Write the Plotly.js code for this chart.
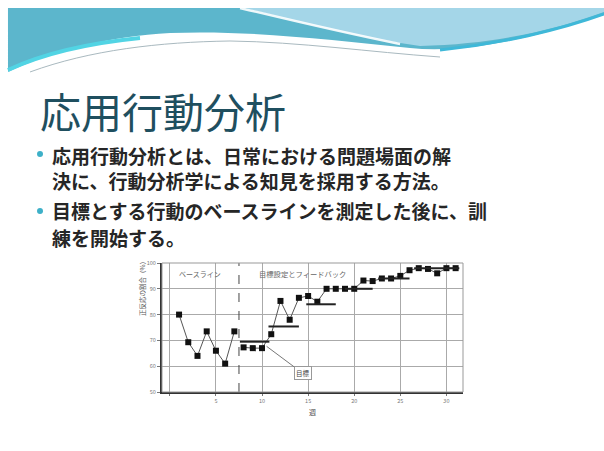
<!DOCTYPE html>
<html>
<head>
<meta charset="utf-8">
<script src="https://cdn.plot.ly/plotly-3.0.1.min.js"></script>
<style>
html,body{margin:0;padding:0;background:#fff;}
#chart{width:604px;height:451px;}
</style>
</head>
<body>
<div id="chart"></div>
<script>
// ---- data ----
const baselineWeeks = [1, 2, 3, 4, 5, 6, 7];
const baselineValues = [80, 69.3, 64, 73.5, 66, 61, 73.5];
const treatmentWeeks = [8, 9, 10, 11, 12, 13, 14, 15, 16, 17, 18, 19, 20, 21, 22, 23, 24, 25, 26, 27, 28, 29, 30, 31];
const treatmentValues = [67.3, 67, 67, 72.4, 85.3, 78, 86.5, 87.2, 85, 90, 90, 90, 90, 93.2, 93, 94, 94, 95, 97.2, 98, 97.7, 96, 98, 98];
const criterionStart = [7.6, 10.7, 14.8, 19.0, 22.6, 26.5];
const criterionEnd = [10.8, 14.0, 18.0, 22.0, 26.0, 31.4];
const criterionLevel = [69.5, 75.4, 84, 90, 94, 98];
const phaseChange = 7.5;
const xTickVals = [0, 5, 10, 15, 20, 25, 30];
const xTickText = ['', '5', '10', '15', '20', '25', '30'];
const yTickVals = [50, 60, 70, 80, 90, 100];
const yTickText = ['50', '60', '70', '80', '90', '100'];
const slideTitle = '応用行動分析';
const bulletLines = [
  '応用行動分析とは、日常における問題場面の解',
  '決に、行動分析学による知見を採用する方法。',
  '目標とする行動のベースラインを測定した後に、訓',
  '練を開始する。'
];
const baselineLabel = 'ベースライン';
const treatmentLabel = '目標設定とフィードバック';
const criterionLabel = '目標';
const xTitle = '週';
const yTitle = '正反応の割合（%）';

// ---- helpers for slide decoration (pixel -> paper) ----
const W = 604, H = 451;
const px = x => (x / W).toFixed(4);
const py = y => (1 - y / H).toFixed(4);
function path(cmds) {
  return cmds.map(c => {
    const L = c[0];
    const pts = [];
    for (let i = 1; i < c.length; i += 2) pts.push(px(c[i]) + ',' + py(c[i + 1]));
    return L + ' ' + pts.join(' ');
  }).join(' ');
}

const FONT = '"Noto Sans CJK JP", "Noto Sans", sans-serif';

const shapes = [
  {type: 'path', xref: 'paper', yref: 'paper', line: {width: 0}, fillcolor: '#5cb6cc', layer: 'below',
   path: path([['M', 8, 8], ['L', 604, 8], ['L', 604, 15], ['C', 540, 36, 470, 54, 410, 48], ['C', 330, 40, 250, 30, 170, 33], ['C', 110, 36, 50, 52, 8, 72], ['Z']])},
  {type: 'path', xref: 'paper', yref: 'paper', line: {width: 0}, fillcolor: '#a4d6e8', layer: 'below',
   path: path([['M', 245, 8], ['C', 300, 22, 360, 38, 420, 46], ['C', 500, 44, 560, 28, 604, 12], ['L', 604, 8], ['Z']])},
  {type: 'path', xref: 'paper', yref: 'paper', line: {width: 2.5, color: 'rgba(255,255,255,0.9)'}, layer: 'below',
   path: path([['M', 240, 8], ['C', 290, 20, 340, 32, 400, 44]])},
  {type: 'path', xref: 'paper', yref: 'paper', line: {width: 4, color: '#52d4e4'}, layer: 'below',
   path: path([['M', 8, 70], ['C', 40, 55, 80, 44, 140, 38]])},
  {type: 'path', xref: 'paper', yref: 'paper', line: {width: 3, color: '#3fb8d8'}, layer: 'below',
   path: path([['M', 440, 50], ['C', 500, 44, 560, 30, 604, 14]])},
  {type: 'path', xref: 'paper', yref: 'paper', line: {width: 1, color: '#a9b9bf'}, layer: 'below',
   path: path([['M', 30, 72], ['C', 90, 50, 160, 42, 230, 41], ['C', 300, 42, 370, 52, 440, 57]])},
  {type: 'circle', xref: 'paper', yref: 'paper', line: {width: 0}, fillcolor: '#3db0c8',
   x0: px(37), x1: px(43), y0: py(157), y1: py(151)},
  {type: 'circle', xref: 'paper', yref: 'paper', line: {width: 0}, fillcolor: '#3db0c8',
   x0: px(37), x1: px(43), y0: py(214), y1: py(208)},
  {type: 'line', xref: 'x', yref: 'y', x0: phaseChange, x1: phaseChange, y0: 50, y1: 100,
   line: {color: '#444', width: 1, dash: 'dash'}},
  {type: 'rect', xref: 'x domain', yref: 'y domain', x0: 0, x1: 1, y0: 0, y1: 1,
   line: {color: '#999', width: 1}},
];

const traces = [];
traces.push({
  x: baselineWeeks, y: baselineValues, type: 'scatter', mode: 'lines+markers',
  line: {color: '#555', width: 1}, marker: {symbol: 'square', size: 6, color: '#111'},
  hoverinfo: 'x+y', showlegend: false
});
traces.push({
  x: treatmentWeeks, y: treatmentValues, type: 'scatter', mode: 'lines+markers',
  line: {color: '#555', width: 1}, marker: {symbol: 'square', size: 6, color: '#111'},
  hoverinfo: 'x+y', showlegend: false
});
for (let i = 0; i < criterionLevel.length; i++) {
  traces.push({
    x: [criterionStart[i], criterionEnd[i]], y: [criterionLevel[i], criterionLevel[i]],
    type: 'scatter', mode: 'lines', line: {color: '#222', width: 2},
    hoverinfo: 'skip', showlegend: false
  });
}

const annotations = [
  {xref: 'paper', yref: 'paper', x: px(38), y: py(110), xanchor: 'left', yanchor: 'middle',
   text: slideTitle, showarrow: false, font: {family: FONT, size: 41, color: '#1f4f5f'}},
];
const lineY = [155, 181, 211, 238];
bulletLines.forEach((t, i) => annotations.push({
  xref: 'paper', yref: 'paper', x: px(50), y: py(lineY[i]), xanchor: 'left', yanchor: 'middle',
  text: '<b>' + t + '</b>', showarrow: false, font: {family: FONT, size: 19, color: '#262626'}
}));
annotations.push(
  {xref: 'x', yref: 'y', x: 3.3, y: 95.8, text: baselineLabel, showarrow: false,
   font: {family: FONT, size: 7, color: '#666'}},
  {xref: 'x', yref: 'y', x: 9.5, y: 95.8, xanchor: 'left', text: treatmentLabel, showarrow: false,
   font: {family: FONT, size: 7.3, color: '#666'}},
  {xref: 'x', yref: 'y', x: 10.5, y: 67.7, axref: 'x', ayref: 'y', ax: 14.4, ay: 57.3,
   text: criterionLabel, showarrow: true, arrowhead: 0, arrowwidth: 1, arrowcolor: '#777',
   bordercolor: '#999', borderwidth: 1, borderpad: 1, bgcolor: '#fff',
   font: {family: FONT, size: 6.5, color: '#444'}},
  {xref: 'paper', yref: 'paper', x: px(312), y: py(412), yanchor: 'middle', text: xTitle, showarrow: false,
   font: {family: FONT, size: 7, color: '#444'}},
  {xref: 'paper', yref: 'paper', x: px(135), y: py(318), text: yTitle, textangle: -90, showarrow: false,
   font: {family: FONT, size: 6.5, color: '#555'}}
);

const layout = {
  width: W, height: H,
  margin: {l: 0, r: 0, t: 0, b: 0},
  paper_bgcolor: '#ffffff', plot_bgcolor: '#ffffff',
  showlegend: false,
  xaxis: {
    domain: [162 / W, 463 / W], range: [-0.85, 31.8],
    tickvals: xTickVals, ticktext: xTickText,
    showgrid: true, gridcolor: '#aaa', gridwidth: 1, zeroline: false,
    showline: true, linecolor: '#333', linewidth: 2,
    ticks: 'outside', ticklen: 2, tickcolor: '#777',
    tickfont: {family: FONT, size: 5.5, color: '#777'}
  },
  yaxis: {
    domain: [1 - 392 / H, 1 - 263 / H], range: [50, 100],
    tickvals: yTickVals, ticktext: yTickText,
    showgrid: true, gridcolor: '#aaa', gridwidth: 1, zeroline: false,
    showline: true, linecolor: '#333', linewidth: 2,
    ticks: 'outside', ticklen: 3, tickcolor: '#777',
    tickfont: {family: FONT, size: 5.5, color: '#777'}
  },
  shapes: shapes,
  annotations: annotations
};

Plotly.newPlot('chart', traces, layout, {displayModeBar: false, staticPlot: true});
</script>
</body>
</html>
